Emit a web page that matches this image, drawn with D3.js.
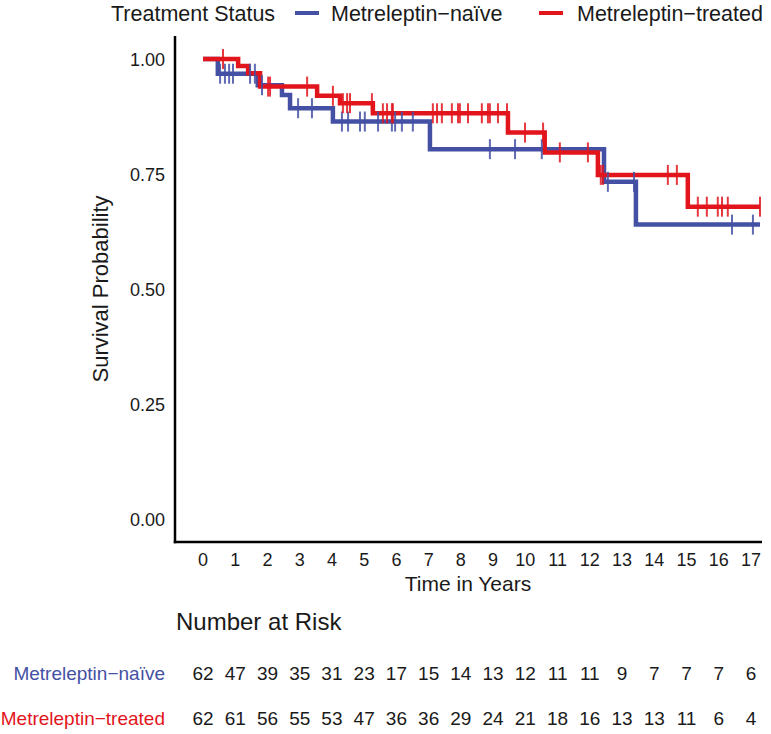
<!DOCTYPE html>
<html>
<head>
<meta charset="utf-8">
<script src="https://cdn.jsdelivr.net/npm/d3@7"></script>
<style>
  html, body { margin: 0; padding: 0; background: #fff; }
  svg { display: block; }
  text { font-family: "Liberation Sans", Arial, sans-serif; fill: #1a1a1a; }
</style>
</head>
<body>
<svg id="chart" width="771" height="734"></svg>
<script>
// ---------- DATA ----------
const seriesNames = ["Metreleptin\u2212naïve", "Metreleptin\u2212treated"];
const seriesColors = ["#4450a4", "#e2151c"];

// Kaplan-Meier step points (time in years, survival)
const naiveTimes = [0, 0.46, 1.70, 2.45, 2.70, 4.03, 7.04, 12.44, 13.43, 17.28];
const naiveSurv  = [1.0, 0.968, 0.943, 0.922, 0.893, 0.864, 0.804, 0.733, 0.640, 0.640];
const naiveCensor = [0.53, 0.68, 0.81, 0.93, 1.46, 1.61, 1.83, 2.95, 3.38,
  4.31, 4.50, 4.87, 5.02, 5.43, 5.86, 5.96, 6.17, 6.51, 8.90, 9.68, 10.51,
  12.56, 13.37, 16.41, 17.06];

const treatedTimes = [0, 1.09, 1.40, 1.77, 3.54, 4.25, 5.27, 9.46, 10.60, 12.25, 15.04, 17.28];
const treatedSurv  = [1.0, 0.985, 0.969, 0.940, 0.920, 0.904, 0.882, 0.840, 0.797, 0.748, 0.679, 0.679];
const treatedCensor = [0.62, 2.02, 2.08, 3.23, 4.03, 4.34, 4.47, 4.56, 5.24,
  5.58, 5.71, 5.86, 5.89, 7.13, 7.26, 7.41, 7.72, 7.91, 7.97, 8.22, 8.65, 8.84,
  8.90, 9.15, 9.43, 9.99, 10.55, 11.07, 11.94, 12.34, 12.41, 14.42, 14.70,
  15.35, 15.63, 15.97, 16.10, 16.28, 17.28];

const xTicks = [0,1,2,3,4,5,6,7,8,9,10,11,12,13,14,15,16,17];
const yTicks = [0, 0.25, 0.5, 0.75, 1.0];
const yTickLabels = ["0.00", "0.25", "0.50", "0.75", "1.00"];

const riskNaive   = [62,47,39,35,31,23,17,15,14,13,12,11,11,9,7,7,7,6];
const riskTreated = [62,61,56,55,53,47,36,36,29,24,21,18,16,13,13,11,6,4];

// ---------- LAYOUT ----------
const svg = d3.select("#chart");
const axisLeft = 175, axisRight = 762, axisTop = 36, axisBottom = 542;

const x = d3.scaleLinear().domain([0, 17]).range([203, 751]);
const y = d3.scaleLinear().domain([-0.05, 1.05]).range([axisBottom, axisTop]);

// axes lines
svg.append("line").attr("x1", axisLeft).attr("x2", axisLeft)
  .attr("y1", axisTop).attr("y2", axisBottom + 1.25)
  .attr("stroke", "#000").attr("stroke-width", 2.5);
svg.append("line").attr("x1", axisLeft - 1.25).attr("x2", axisRight)
  .attr("y1", axisBottom).attr("y2", axisBottom)
  .attr("stroke", "#000").attr("stroke-width", 2.5);

// y tick labels
svg.append("g").selectAll("text").data(yTicks).join("text")
  .attr("x", 165).attr("y", d => y(d) + 6.5)
  .attr("text-anchor", "end").attr("font-size", 18)
  .text((d, i) => yTickLabels[i]);

// x tick labels
svg.append("g").selectAll("text").data(xTicks).join("text")
  .attr("x", d => x(d)).attr("y", 566)
  .attr("text-anchor", "middle").attr("font-size", 18)
  .text(d => d);

// axis titles
svg.append("text").attr("x", 468).attr("y", 591)
  .attr("text-anchor", "middle").attr("font-size", 21)
  .text("Time in Years");
svg.append("text")
  .attr("transform", `translate(108,${y(0.5)}) rotate(-90)`)
  .attr("text-anchor", "middle").attr("font-size", 22)
  .text("Survival Probability");

// ---------- CURVES ----------
const line = d3.line().x(d => x(d[0])).y(d => y(d[1])).curve(d3.curveStepAfter);

function stepValue(times, surv, t) {
  let v = surv[0];
  for (let i = 0; i < times.length; i++) { if (times[i] <= t) v = surv[i]; }
  return v;
}

const series = [
  { times: naiveTimes, surv: naiveSurv, censor: naiveCensor, color: seriesColors[0] },
  { times: treatedTimes, surv: treatedSurv, censor: treatedCensor, color: seriesColors[1] }
];

series.forEach(s => {
  const pts = s.times.map((t, i) => [t, s.surv[i]]);
  svg.append("path").attr("d", line(pts))
    .attr("fill", "none").attr("stroke", s.color).attr("stroke-width", 4.5);
});
series.forEach(s => {
  svg.append("g").selectAll("line").data(s.censor).join("line")
    .attr("x1", d => x(d)).attr("x2", d => x(d))
    .attr("y1", d => y(stepValue(s.times, s.surv, d)) - 10)
    .attr("y2", d => y(stepValue(s.times, s.surv, d)) + 10)
    .attr("stroke", s.color).attr("stroke-width", 2).attr("stroke-opacity", 0.85);
});

// ---------- LEGEND ----------
const legY = 13;
svg.append("text").attr("x", 111).attr("y", legY + 7.5).attr("font-size", 21.5)
  .text("Treatment Status");
const legItems = [
  { x1: 295, tx: 331 },
  { x1: 539, tx: 577 }
];
legItems.forEach((l, i) => {
  svg.append("line").attr("x1", l.x1).attr("x2", l.x1 + 24)
    .attr("y1", legY).attr("y2", legY)
    .attr("stroke", seriesColors[i]).attr("stroke-width", 4);
  svg.append("text").attr("x", l.tx).attr("y", legY + 7.5).attr("font-size", 21.5)
    .text(seriesNames[i]);
});

// ---------- RISK TABLE ----------
svg.append("text").attr("x", 176).attr("y", 630).attr("font-size", 24)
  .text("Number at Risk");

const riskRows = [riskNaive, riskTreated];
const rowY = [680, 725];
riskRows.forEach((row, r) => {
  svg.append("text").attr("x", 165).attr("y", rowY[r]).attr("text-anchor", "end")
    .attr("font-size", 19).style("fill", seriesColors[r]).text(seriesNames[r]);
  svg.append("g").selectAll("text").data(row).join("text")
    .attr("x", (d, i) => x(xTicks[i])).attr("y", rowY[r])
    .attr("text-anchor", "middle").attr("font-size", 19)
    .text(d => d);
});
</script>
</body>
</html>
